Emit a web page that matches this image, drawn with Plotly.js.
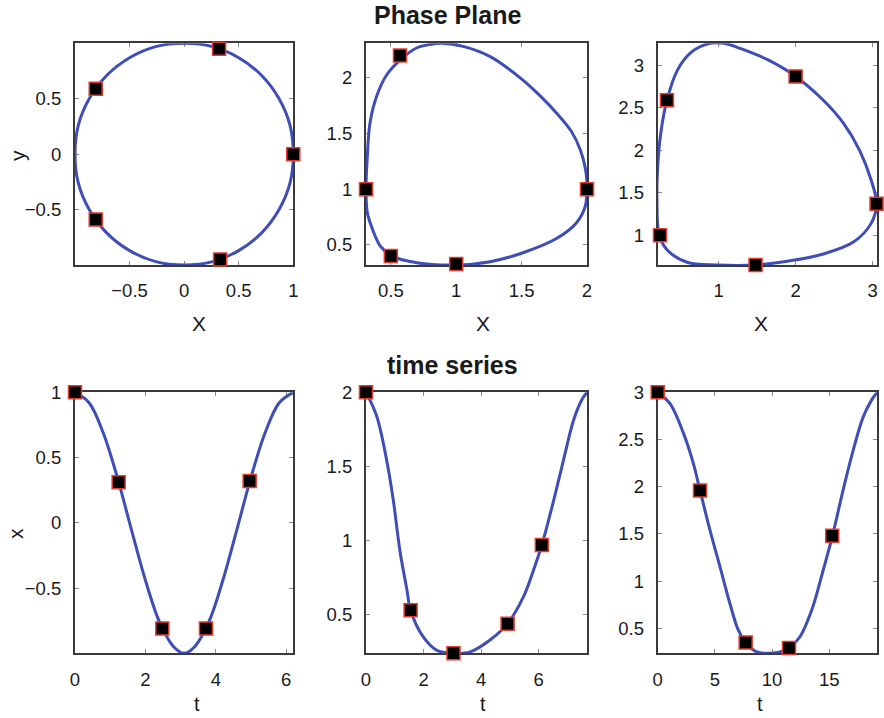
<!DOCTYPE html>
<html>
<head>
<meta charset="utf-8">
<script src="https://cdn.plot.ly/plotly-3.0.1.min.js"></script>
<style>
  html, body { margin: 0; padding: 0; background: #fff; }
  #chart { width: 884px; height: 718px; }
</style>
</head>
<body>
<div id="chart"></div>
<script>
// ---- Phase plane 1: harmonic orbit (x, y) ----
const p1X = [1, 0.97, 0.87, 0.71, 0.5, 0.26, 0, -0.26, -0.5, -0.71, -0.87, -0.97, -1, -0.97, -0.87, -0.71, -0.5, -0.26, 0, 0.26, 0.5, 0.71, 0.87, 0.97, 1];
const p1Y = [0, 0.26, 0.5, 0.71, 0.87, 0.97, 1, 0.97, 0.87, 0.71, 0.5, 0.26, 0, -0.26, -0.5, -0.71, -0.87, -0.97, -1, -0.97, -0.87, -0.71, -0.5, -0.26, 0];
const p1MarkX = [1, 0.32, -0.81, -0.81, 0.33];
const p1MarkY = [0, 0.95, 0.59, -0.59, -0.95];

// ---- Phase plane 2 ----
const p2X = [2.0, 1.99, 1.95, 1.88, 1.77, 1.64, 1.51, 1.26, 1.06, 0.89, 0.80, 0.70, 0.59, 0.47, 0.39, 0.34, 0.32, 0.31, 0.32, 0.36, 0.42, 0.51, 0.70, 1.0, 1.26, 1.51, 1.77, 1.92, 1.985, 2.0];
const p2Y = [1.0, 1.17, 1.35, 1.52, 1.68, 1.84, 1.98, 2.19, 2.28, 2.31, 2.30, 2.27, 2.18, 2.03, 1.83, 1.59, 1.29, 1.01, 0.79, 0.64, 0.49, 0.40, 0.34, 0.32, 0.35, 0.43, 0.56, 0.70, 0.84, 1.0];
const p2MarkX = [2.0, 0.57, 0.31, 0.5, 1.0];
const p2MarkY = [1.0, 2.2, 1.0, 0.4, 0.33];

// ---- Phase plane 3 ----
const p3X = [3.05, 2.98, 2.83, 2.62, 2.36, 2.0, 1.63, 1.28, 1.07, 0.85, 0.64, 0.47, 0.33, 0.25, 0.21, 0.20, 0.23, 0.34, 0.60, 0.98, 1.48, 1.93, 2.36, 2.75, 2.98, 3.05];
const p3Y = [1.37, 1.65, 2.0, 2.32, 2.59, 2.87, 3.07, 3.20, 3.26, 3.25, 3.15, 2.95, 2.59, 2.20, 1.81, 1.41, 1.0, 0.82, 0.68, 0.65, 0.65, 0.70, 0.78, 0.92, 1.14, 1.37];
const p3MarkX = [3.05, 2.0, 0.33, 0.24, 1.48];
const p3MarkY = [1.37, 2.87, 2.59, 1.0, 0.65];

// ---- Time series 1 ----
const t1 = [0, 0.4, 0.8, 1.2, 1.6, 2.0, 2.4, 2.8, 3.1, 3.4, 3.8, 4.2, 4.6, 5.0, 5.4, 5.8, 6.2];
const x1 = [1, 0.92, 0.69, 0.35, -0.05, -0.44, -0.76, -0.95, -1, -0.95, -0.76, -0.44, -0.05, 0.35, 0.69, 0.92, 1];
const t1Mark = [0, 1.24, 2.48, 3.72, 4.96];
const x1Mark = [1, 0.31, -0.81, -0.81, 0.32];

// ---- Time series 2 ----
const t2 = [0, 0.37, 0.72, 0.95, 1.18, 1.42, 1.55, 1.99, 2.46, 3.04, 3.62, 4.31, 4.92, 5.47, 5.82, 6.11, 6.52, 6.86, 7.21, 7.50, 7.68];
const x2 = [2.0, 1.84, 1.54, 1.27, 0.93, 0.67, 0.53, 0.35, 0.26, 0.24, 0.25, 0.33, 0.44, 0.62, 0.80, 0.97, 1.27, 1.54, 1.81, 1.95, 2.0];
const t2Mark = [0, 1.55, 3.04, 4.92, 6.11];
const x2Mark = [2.0, 0.53, 0.24, 0.44, 0.97];

// ---- Time series 3 ----
const t3 = [0, 1.08, 2.24, 3.11, 3.70, 4.57, 5.45, 6.32, 7.05, 7.69, 8.65, 9.67, 10.69, 11.48, 12.44, 13.46, 14.48, 15.26, 16.22, 17.10, 17.97, 18.71, 19.2];
const x3 = [3.0, 2.88, 2.57, 2.25, 1.96, 1.54, 1.15, 0.76, 0.48, 0.35, 0.25, 0.235, 0.25, 0.29, 0.41, 0.69, 1.12, 1.47, 1.97, 2.39, 2.74, 2.92, 3.0];
const t3Mark = [0, 3.70, 7.69, 11.48, 15.26];
const x3Mark = [3.0, 1.96, 0.35, 0.29, 1.48];

// ---- Tick values ----
const ticksP1X = [-0.5, 0, 0.5, 1];
const ticksP1Y = [-0.5, 0, 0.5];
const ticksP2X = [0.5, 1, 1.5, 2];
const ticksP2Y = [0.5, 1, 1.5, 2];
const ticksP3X = [1, 2, 3];
const ticksP3Y = [1, 1.5, 2, 2.5, 3];
const ticksT1X = [0, 2, 4, 6];
const ticksT1Y = [-0.5, 0, 0.5, 1];
const ticksT2X = [0, 2, 4, 6];
const ticksT2Y = [0.5, 1, 1.5, 2];
const ticksT3X = [0, 5, 10, 15];
const ticksT3Y = [0.5, 1, 1.5, 2, 2.5, 3];

const W = 884, H = 718;
const CURVE = '#3f4db6';
const FONT = 'Liberation Sans, Arial, Helvetica, sans-serif';

// pixel helpers for subplot placement
const colPx = [[75, 293.3], [366, 587], [657.7, 877.3]];
const rowPx = [[43.3, 265], [392.3, 653.3]];
const xDom = c => [colPx[c][0] / W, colPx[c][1] / W];
const yDom = r => [1 - rowPx[r][1] / H, 1 - rowPx[r][0] / H];

function ax(domain, anchor, range, tickvals) {
  return {
    domain: domain, anchor: anchor, range: range, tickvals: tickvals,
    showgrid: false, zeroline: false,
    showline: true, mirror: 'ticks', linecolor: '#3a3a3a', linewidth: 2,
    ticks: 'inside', ticklen: 4, tickwidth: 1, tickcolor: '#8a8a8a',
    tickfont: { family: FONT, size: 18.5, color: '#1a1a1a' },
    ticklabelstandoff: 8,
    layer: 'below traces',
    fixedrange: true
  };
}

function curve(x, y, n) {
  return {
    x: x, y: y, xaxis: 'x' + n, yaxis: 'y' + n, type: 'scatter', mode: 'lines',
    line: { color: CURVE, width: 3, shape: 'spline', smoothing: 1 },
    hoverinfo: 'skip'
  };
}
function marks(x, y, n) {
  return {
    x: x, y: y, xaxis: 'x' + n, yaxis: 'y' + n, type: 'scatter', mode: 'markers',
    marker: { symbol: 'square', size: 13, color: '#000', line: { color: '#e23a2c', width: 1.5 } },
    cliponaxis: false, hoverinfo: 'skip'
  };
}

const data = [
  curve(p1X, p1Y, ''), marks(p1MarkX, p1MarkY, ''),
  curve(p2X, p2Y, 2), marks(p2MarkX, p2MarkY, 2),
  curve(p3X, p3Y, 3), marks(p3MarkX, p3MarkY, 3),
  curve(t1, x1, 4), marks(t1Mark, x1Mark, 4),
  curve(t2, x2, 5), marks(t2Mark, x2Mark, 5),
  curve(t3, x3, 6), marks(t3Mark, x3Mark, 6)
];

function label(text, px, py, size, opts) {
  return Object.assign({
    text: text, xref: 'paper', yref: 'paper', x: px / W, y: 1 - py / H,
    xanchor: 'center', yanchor: 'middle', showarrow: false,
    font: { family: FONT, size: size, color: '#1a1a1a' }
  }, opts || {});
}

// bottom-row "t" labels sit flush against the lower edge of the figure
const tOpts = { yanchor: 'bottom', borderpad: 0 };

const layout = {
  width: W, height: H,
  margin: { l: 0, r: 0, t: 0, b: 0 },
  paper_bgcolor: '#fff', plot_bgcolor: '#fff',
  showlegend: false,
  font: { family: FONT, color: '#1a1a1a' },
  xaxis:  ax(xDom(0), 'y',  [-1, 1], ticksP1X),
  yaxis:  ax(yDom(0), 'x',  [-1, 1], ticksP1Y),
  xaxis2: ax(xDom(1), 'y2', [0.31, 2.0], ticksP2X),
  yaxis2: ax(yDom(0), 'x2', [0.32, 2.31], ticksP2Y),
  xaxis3: ax(xDom(2), 'y3', [0.21, 3.06], ticksP3X),
  yaxis3: ax(yDom(0), 'x3', [0.65, 3.26], ticksP3Y),
  xaxis4: ax(xDom(0), 'y4', [0, 6.2], ticksT1X),
  yaxis4: ax(yDom(1), 'x4', [-1, 1], ticksT1Y),
  xaxis5: ax(xDom(1), 'y5', [0, 7.68], ticksT2X),
  yaxis5: ax(yDom(1), 'x5', [0.24, 2.0], ticksT2Y),
  xaxis6: ax(xDom(2), 'y6', [0, 19.2], ticksT3X),
  yaxis6: ax(yDom(1), 'x6', [0.235, 3.0], ticksT3Y),
  annotations: [
    label('<b>Phase Plane</b>', 447.5, 15, 25),
    label('<b>time series</b>', 452.5, 365, 25),
    label('X', 199, 323, 21), label('X', 483, 323, 21), label('X', 760.7, 323, 21),
    label('t', 197.3, 716, 20, tOpts), label('t', 482.7, 716, 20, tOpts), label('t', 760, 716, 20, tOpts),
    label('y', 17, 156, 21, { textangle: -90 }),
    label('x', 15, 533, 21, { textangle: -90 })
  ]
};

Plotly.newPlot('chart', data, layout, { staticPlot: true, displayModeBar: false });
</script>
</body>
</html>
